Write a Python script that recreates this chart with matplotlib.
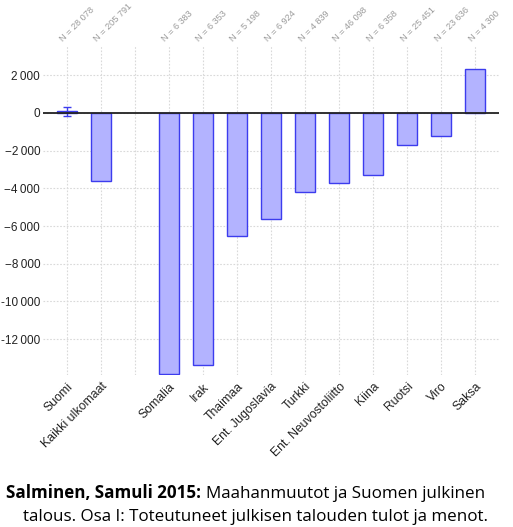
import matplotlib
matplotlib.use("Agg")
import matplotlib.pyplot as plt
import numpy as np

categories = ["Suomi", "Kaikki ulkomaat", "", "Somalia", "Irak", "Thaimaa",
              "Ent. Jugoslavia", "Turkki", "Ent. Neuvostoliitto", "Kiina",
              "Ruotsi", "Viro", "Saksa"]
values = [80, -3600, np.nan, -13850, -13350, -6520, -5650, -4200, -3720,
          -3290, -1700, -1220, 2350]
n_labels = ["N = 28 078", "N = 205 791", "", "N = 6 383", "N = 6 353",
            "N = 5 198", "N = 6 924", "N = 4 839", "N = 46 098", "N = 6 358",
            "N = 25 451", "N = 23 636", "N = 4 300"]
suomi_err = 250
yticks = [2000, 0, -2000, -4000, -6000, -8000, -10000, -12000]
ytick_labels = ["2\u2009000", "0", "\u22122\u2009000", "\u22124\u2009000", "\u22126\u2009000",
                "\u22128\u2009000", "-10\u2009000", "-12\u2009000"]

W, H = 513, 527
fig = plt.figure(figsize=(W/100, H/100), dpi=100)
ax = fig.add_axes([43/W, 1 - 375/H, (499-43)/W, (375-45)/H])

x = np.arange(len(categories))
fill = "#b3b3ff"
edge = "#3c3cee"
ax.bar(x, values, width=0.6, color=fill, edgecolor=edge, linewidth=1.0, zorder=3)
ax.errorbar([x[0]], [values[0]], yerr=[suomi_err], fmt="none", ecolor=edge,
            elinewidth=1.0, capsize=3, zorder=4)

ax.axhline(0, color="#222222", linewidth=1.3, zorder=5)

ax.set_xlim(-0.7, 12.7)
ax.set_ylim(-13900, 3600)
ax.set_yticks(yticks)
ax.set_yticklabels(ytick_labels, family="Liberation Sans", fontsize=8.5, color="#222222")
ax.set_xticks(x)
ax.set_xticklabels(categories, rotation=45, ha="right", rotation_mode="anchor",
                   family="Liberation Sans", fontsize=8.8, color="#222222")
ax.tick_params(axis="both", length=0)
ax.tick_params(axis="y", pad=2)
ax.tick_params(axis="x", pad=4)
for s in ax.spines.values():
    s.set_visible(False)
ax.grid(True, color="#d9d9d9", linestyle=(0, (1.5, 1.5)), linewidth=0.8, zorder=0)
ax.set_axisbelow(True)

for xi, lab in zip(x, n_labels):
    if lab:
        ax.annotate(lab, xy=(xi, 1), xycoords=("data", "axes fraction"),
                    xytext=(-1.5, 1.2), textcoords="offset points",
                    rotation=45, ha="left", va="bottom", rotation_mode="anchor",
                    family="Liberation Sans", fontsize=6.6, color="#9a9a9a")

# caption, sized to match the reference width
renderer = fig.canvas.get_renderer()
line2 = "talous. Osa I: Toteutuneet julkisen talouden tulot ja menot."
fs = 12.0
t2 = fig.text(23/W, 1 - 521/H, line2, family="Open Sans", fontsize=fs,
              ha="left", va="baseline")
w2 = t2.get_window_extent(renderer).width
fs = fs * 463 / w2
t2.set_fontsize(fs)
t1 = fig.text(6/W, 1 - 498/H, "Salminen, Samuli 2015:", family="Open Sans",
              fontsize=fs, fontweight="bold", ha="left", va="baseline")
bb = t1.get_window_extent(renderer)
fig.text((bb.x1 + 5)/W, 1 - 498/H, "Maahanmuutot ja Suomen julkinen",
         family="Open Sans", fontsize=fs, ha="left", va="baseline")

fig.savefig("out.png", dpi=100, facecolor="white")
